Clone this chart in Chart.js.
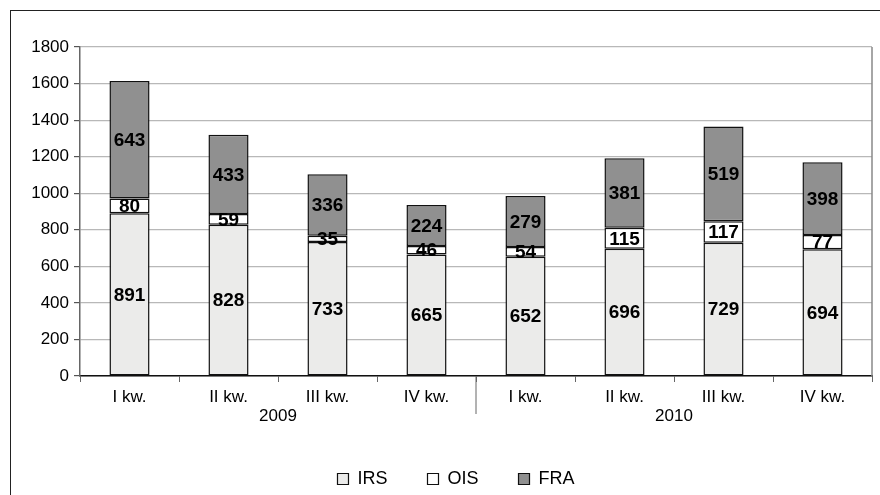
<!DOCTYPE html>
<html>
<head>
<meta charset="utf-8">
<script src="https://cdn.jsdelivr.net/npm/chart.js@4/dist/chart.umd.min.js"></script>
<style>
  html, body { margin: 0; padding: 0; background: #fff; }
  #wrap { position: relative; width: 880px; height: 495px; overflow: hidden; }
  #frame { position: absolute; left: 10px; top: 10px; width: 900px; height: 600px; border: 1.5px solid #222; pointer-events: none; }
</style>
</head>
<body>
<div id="wrap">
  <canvas id="chart" width="880" height="495"></canvas>
  <div id="frame"></div>
</div>
<script>
const quarters = ['I kw.', 'II kw.', 'III kw.', 'IV kw.', 'I kw.', 'II kw.', 'III kw.', 'IV kw.'];
const years = ['2009', '2010'];
const irs = [891, 828, 733, 665, 652, 696, 729, 694];
const ois = [80, 59, 35, 46, 54, 115, 117, 77];
const fra = [643, 433, 336, 224, 279, 381, 519, 398];

const FONT = '"Liberation Sans", Arial, sans-serif';

// values written in the middle of each segment
const segmentLabels = {
    id: 'segmentLabels',
    afterDatasetsDraw(chart) {
        const ctx = chart.ctx;
        ctx.save();
        ctx.font = 'bold 19px ' + FONT;
        ctx.fillStyle = '#000';
        ctx.textAlign = 'center';
        ctx.textBaseline = 'middle';
        chart.data.datasets.forEach((ds, di) => {
            chart.getDatasetMeta(di).data.forEach((bar, i) => {
                ctx.fillText(ds.data[i], bar.x, (bar.y + bar.base) / 2 + 1);
            });
        });
        ctx.restore();
    }
};

// year labels, group separator and plot area right border
const yearAxis = {
    id: 'yearAxis',
    afterLayout(chart) {
        // legend in the original sits a little right of centre and lower
        chart.legend.left += 40;
        chart.legend.top += 3;
    },
    afterDraw(chart) {
        const ctx = chart.ctx;
        const x = chart.scales.x;
        const area = chart.chartArea;
        ctx.save();
        ctx.strokeStyle = '#888';
        ctx.lineWidth = 1.5;
        ctx.beginPath();
        ctx.moveTo(area.right, area.top);
        ctx.lineTo(area.right, area.bottom);
        ctx.stroke();

        const sep = (x.getPixelForValue(3) + x.getPixelForValue(4)) / 2;
        ctx.strokeStyle = '#666';
        ctx.lineWidth = 1;
        ctx.beginPath();
        ctx.moveTo(sep, area.bottom);
        ctx.lineTo(sep, area.bottom + 38);
        ctx.stroke();

        ctx.font = '17px ' + FONT;
        ctx.fillStyle = '#000';
        ctx.textAlign = 'center';
        ctx.textBaseline = 'middle';
        years.forEach((y, g) => {
            const cx = (x.getPixelForValue(g * 4 + 1) + x.getPixelForValue(g * 4 + 2)) / 2;
            ctx.fillText(y, cx, area.bottom + 40);
        });
        ctx.restore();
    }
};

const barStyle = { borderColor: '#111', borderWidth: 1.5, borderSkipped: false, barPercentage: 0.405, categoryPercentage: 1 };

new Chart(document.getElementById('chart'), {
    type: 'bar',
    data: {
        labels: quarters,
        datasets: [
            Object.assign({ label: 'IRS', data: irs, backgroundColor: '#ebebea' }, barStyle),
            Object.assign({ label: 'OIS', data: ois, backgroundColor: '#ffffff' }, barStyle),
            Object.assign({ label: 'FRA', data: fra, backgroundColor: '#909090' }, barStyle)
        ]
    },
    options: {
        responsive: false,
        animation: false,
        layout: { padding: { top: 47, right: 8, bottom: 0, left: 0 } },
        plugins: {
            tooltip: { enabled: false },
            legend: {
                position: 'bottom',
                labels: {
                    font: { family: FONT, size: 18 },
                    color: '#000',
                    boxWidth: 11,
                    boxHeight: 11,
                    padding: 40,
                    generateLabels(chart) {
                        return chart.data.datasets.map((ds, i) => ({
                            text: ds.label,
                            fillStyle: ds.backgroundColor,
                            strokeStyle: '#111',
                            lineWidth: 1.2,
                            datasetIndex: i
                        }));
                    }
                }
            }
        },
        scales: {
            x: {
                stacked: true,
                grid: { drawOnChartArea: false, drawTicks: true, tickLength: 6, color: '#666' },
                border: { color: '#111', width: 1.5 },
                ticks: { color: '#000', font: { family: FONT, size: 17 }, padding: 5 },
                afterFit(scale) { scale.height = 51; }
            },
            y: {
                stacked: true,
                min: 0,
                max: 1800,
                grid: { color: '#b8b8b8', lineWidth: 1.2, tickLength: 6, tickColor: '#555' },
                border: { color: '#666', width: 1.5 },
                ticks: { stepSize: 200, color: '#000', font: { family: FONT, size: 17 }, padding: 5, callback: v => v },
                afterFit(scale) { scale.width = 80; }
            }
        }
    },
    plugins: [segmentLabels, yearAxis]
});
</script>
</body>
</html>
